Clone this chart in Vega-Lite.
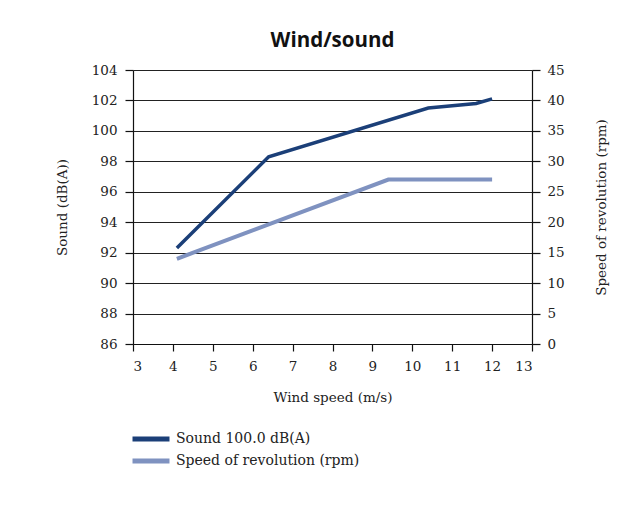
{
  "$schema": "https://vega.github.io/schema/vega-lite/v6.json",
  "width": 399,
  "height": 274,
  "autosize": {"type": "none"},
  "padding": {"left": 133, "top": 70, "right": 101, "bottom": 173},
  "title": {"text": "Wind/sound", "font": "Open Sans", "fontSize": 20.5, "fontWeight": "bold", "color": "#111", "offset": -4, "baseline": "alphabetic", "anchor": "middle"},
  "data": {"values": [
    {"series": "Sound 100.0 dB(A)", "wind": 4.1, "value": 92.3},
    {"series": "Sound 100.0 dB(A)", "wind": 6.4, "value": 98.3},
    {"series": "Sound 100.0 dB(A)", "wind": 10.4, "value": 101.5},
    {"series": "Sound 100.0 dB(A)", "wind": 11.6, "value": 101.8},
    {"series": "Sound 100.0 dB(A)", "wind": 12.0, "value": 102.1},
    {"series": "Speed of revolution (rpm)", "wind": 4.1, "value": 14},
    {"series": "Speed of revolution (rpm)", "wind": 9.4, "value": 27},
    {"series": "Speed of revolution (rpm)", "wind": 12.0, "value": 27}
  ]},
  "encoding": {
    "x": {"field": "wind", "type": "quantitative", "title": "Wind speed (m/s)",
      "scale": {"domain": [3, 13], "nice": false, "zero": false},
      "axis": {"values": [3,4,5,6,7,8,9,10,11,12,13], "labelOverlap": false, "grid": false, "tickSize": 7, "labelPadding": 8, "titlePadding": 18}},
    "color": {"field": "series", "type": "nominal", "title": null,
      "scale": {"domain": ["Sound 100.0 dB(A)", "Speed of revolution (rpm)"], "range": ["#1b3f78", "#7f92c0"]},
      "legend": {"orient": "none", "legendX": 6, "legendY": 357, "symbolType": "M-2,0H2", "symbolSize": 342, "symbolStrokeWidth": 5, "labelOffset": 13, "labelLimit": 400, "rowPadding": -2, "padding": 0}}
  },
  "layer": [
    {
      "transform": [{"filter": "datum.series === 'Sound 100.0 dB(A)'"}],
      "mark": {"type": "line", "strokeWidth": 3.5},
      "encoding": {
        "y": {"field": "value", "type": "quantitative", "title": "Sound (dB(A))",
          "scale": {"domain": [86, 104], "nice": false, "zero": false},
          "axis": {"orient": "left", "values": [86,88,90,92,94,96,98,100,102,104], "labelOverlap": false, "grid": true, "tickSize": 8, "labelPadding": 8, "titlePadding": 22}}
      }
    },
    {
      "transform": [{"filter": "datum.series === 'Speed of revolution (rpm)'"}],
      "mark": {"type": "line", "strokeWidth": 4},
      "encoding": {
        "y": {"field": "value", "type": "quantitative", "title": "Speed of revolution (rpm)",
          "scale": {"domain": [0, 45], "nice": false},
          "axis": {"orient": "right", "values": [0,5,10,15,20,25,30,35,40,45], "labelOverlap": false, "grid": false, "tickSize": 8, "labelPadding": 7, "titlePadding": 30, "titleAngle": 270, "titleBaseline": "top"}}
      }
    }
  ],
  "resolve": {"scale": {"y": "independent"}},
  "config": {
    "view": {"stroke": null},
    "axis": {
      "labelOverlap": false,
      "domainColor": "#111", "domainWidth": 1.2, "tickColor": "#111", "tickWidth": 1.2,
      "gridColor": "#222", "gridWidth": 1.2, "gridOpacity": 1,
      "labelFont": "DejaVu Serif", "labelFontSize": 13.5, "labelColor": "#222",
      "titleFont": "DejaVu Serif", "titleFontSize": 13.5, "titleFontWeight": "normal", "titleColor": "#222"
    },
    "legend": {"labelFont": "DejaVu Serif", "labelFontSize": 14, "labelColor": "#222"}
  }
}
